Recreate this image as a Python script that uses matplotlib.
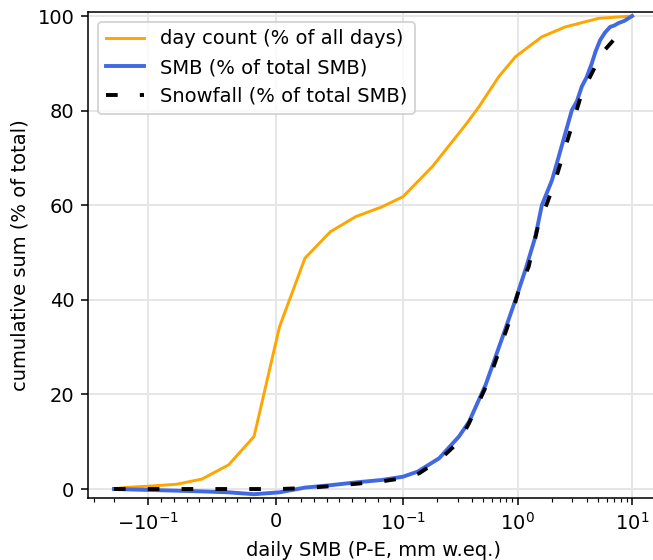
import numpy as np
import matplotlib
matplotlib.use("Agg")
import matplotlib.pyplot as plt
from matplotlib.ticker import FixedLocator

# cumulative distributions of daily SMB values
day_x = [-0.2, -0.165, -0.1, -0.078, -0.058, -0.037, -0.017, 0.003, 0.023,
         0.043, 0.063, 0.083, 0.1, 0.181, 0.352, 0.46, 0.687, 0.96, 1.63,
         2.61, 5.08, 10.0]
day_pct = [0.0, 0.3, 0.6, 1.0, 2.1, 5.1, 11.1, 34.3, 48.8, 54.4, 57.6, 59.6,
           61.8, 68.2, 77.0, 80.8, 87.2, 91.4, 95.6, 97.7, 99.5, 100.0]

smb_x = [-0.2, -0.165, -0.1, -0.078, -0.058, -0.037, -0.017, 0.003, 0.023,
         0.043, 0.063, 0.083, 0.1, 0.135, 0.207, 0.308, 0.377, 0.526, 0.734,
         0.96, 1.17, 1.43, 1.63, 2.0, 2.29, 2.98, 3.3, 3.64, 4.0, 4.45, 4.8,
         5.26, 5.8, 6.43, 7.0, 7.59, 8.6, 10.0]
smb_pct = [0.0, -0.05, -0.2, -0.35, -0.5, -0.7, -1.1, -0.7, 0.3, 0.8, 1.4,
           1.9, 2.6, 3.7, 6.5, 11.1, 14.2, 22.0, 31.9, 40.0, 46.3, 53.3, 60.0,
           65.3, 70.3, 80.1, 82.0, 85.1, 87.0, 90.0, 92.5, 94.9, 96.5, 97.7,
           98.0, 98.5, 99.0, 100.0]

snow_x = [-0.2, -0.1, -0.017, 0.003, 0.023, 0.043, 0.063, 0.083, 0.1, 0.138,
          0.207, 0.308, 0.377, 0.562, 0.896, 1.027, 1.25, 1.53, 1.81, 2.14,
          2.79, 3.64, 4.45, 5.43, 7.11, 10.0]
snow_pct = [0.0, 0.0, 0.0, 0.0, 0.2, 0.6, 1.1, 1.6, 2.3, 3.3, 6.1, 10.0,
            13.9, 23.0, 37.1, 42.1, 47.0, 56.2, 60.4, 65.3, 74.5, 83.7, 87.9,
            92.1, 95.3, 96.7]

fig = plt.figure(figsize=(653 / 140, 560 / 140), dpi=140)
ax = fig.add_axes([88 / 653, 62 / 560, 570 / 653, 486 / 560])

ax.plot(day_x, day_pct, color='orange', lw=1.5, label='day count (% of all days)')
ax.plot(smb_x, smb_pct, color='royalblue', lw=2, label='SMB (% of total SMB)')
ax.plot(snow_x, snow_pct, color='k', lw=2, ls=(0, (3, 5.7)),
        label='Snowfall (% of total SMB)')

ax.set_xscale('symlog', linthresh=0.1, linscale=1)
ax.set_ylim(-1.9, 100.85)
ax.set_yticks([0, 20, 40, 60, 80, 100])

# minor ticks: 0.01 steps in the linear part, 2..9 per decade outside
lin_minor = [v for v in np.round(np.arange(-0.09, 0.0951, 0.01), 2) if v != 0]
log_minor = [s * 10.0 ** e for e in (-1, 0, 1) for s in range(2, 10)]
ax.xaxis.set_minor_locator(FixedLocator(lin_minor + log_minor
                                        + [-v for v in log_minor[:8]]))

ax.grid(True, color='#e6e6e6', linewidth=1)
ax.set_axisbelow(True)
ax.spines['right'].set_visible(False)

ax.set_xlabel('daily SMB (P-E, mm w.eq.)')
ax.set_ylabel('cumulative sum (% of total)')
ax.legend(loc='upper left')

fig.savefig('out.png', dpi=140)
